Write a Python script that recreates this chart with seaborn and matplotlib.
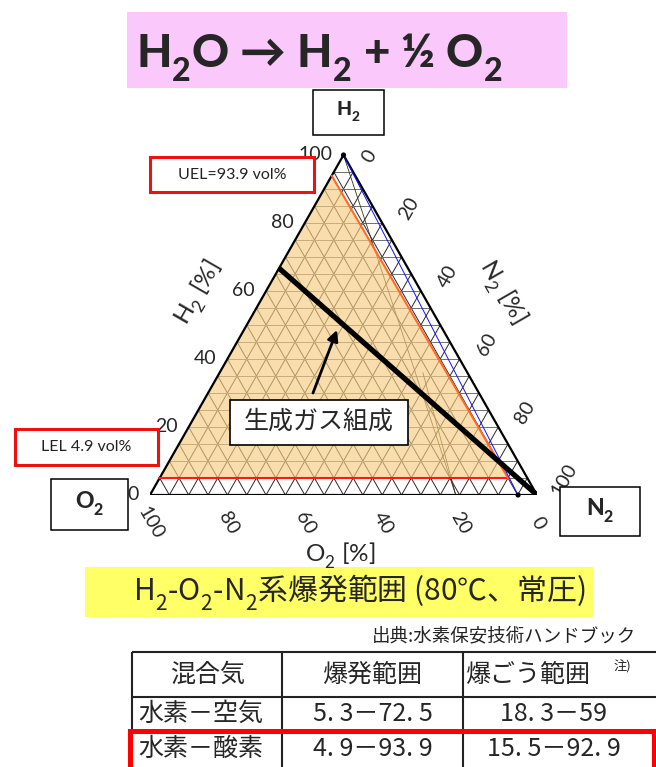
import numpy as np
import pandas as pd
import matplotlib
matplotlib.use("Agg")
import matplotlib.pyplot as plt
from matplotlib.patches import Rectangle
import seaborn as sns

try:  # deeper subscripts, closer to the reference typography
    import matplotlib._mathtext as _mt
    _mt.FontConstantsBase.sub1 = 0.62
except Exception:
    pass

# ---------------- data ----------------
axis_ticks = [0, 20, 40, 60, 80, 100]
grid_values = list(range(5, 100, 5))
lel_h2 = 4.9             # LEL vol%
uel_h2 = 93.9            # UEL vol%
uel_o2 = 6.1             # O2 at the UEL point (N2 = 0)
boundary_o2_low = 5.0    # O2 where the rich boundary meets the LEL line
blue_line_h2 = [100.0, 0.0]
blue_line_o2 = [0.0, 4.9]
product_h2 = [66.7, 0.0]     # H2 : O2 = 2 : 1, diluted by N2
product_o2 = [33.3, 0.0]
air_line_h2 = [100.0, 0.0]
air_line_o2 = [0.0, 21.0]
air_line2_h2 = [36.0, 0.0]
air_line2_o2 = [11.5, 21.0]

title_text = r"H$_2$O → H$_2$ + ½ O$_2$"
caption_text = r"H$_2$-O$_2$-N$_2$系爆発範囲 (80℃、常圧)"
source_text = "出典:水素保安技術ハンドブック"
gas_label = "生成ガス組成"
uel_label = "UEL=93.9 vol%"
lel_label = "LEL 4.9 vol%"
table_header = ["混合気", "爆発範囲", "爆ごう範囲"]
table_rows = [["水素－空気", "5. 3－72. 5", "18. 3－59"],
              ["水素－酸素", "4. 9－93. 9", "15. 5－92. 9"]]

# ---------------- style ----------------
sns.set_style("white")
plt.rcParams['font.family'] = ['Lato', 'Noto Sans CJK JP', 'DejaVu Sans']
plt.rcParams['mathtext.default'] = 'regular'
JP = ['Noto Sans CJK JP', 'DejaVu Sans']

S3 = np.sqrt(3) / 2


def tern_xy(h, o):
    h = np.asarray(h, dtype=float)
    o = np.asarray(o, dtype=float)
    n = 100.0 - h - o
    return n + h / 2.0, h * S3


def line_df(h, o):
    x, y = tern_xy(h, o)
    return pd.DataFrame({'x': np.atleast_1d(x), 'y': np.atleast_1d(y)})


fig = plt.figure(figsize=(6.56, 7.67), dpi=100)
fig.patch.set_facecolor('white')

W, H = 656, 767
ax = fig.add_axes([150 / W, (H - 495) / H, 387 / W, 340 / H])
ax.set_xlim(0, 100)
ax.set_ylim(0, 100 * S3)
ax.axis('off')

# grid
rows = []
for v in grid_values:
    for hh, oo in [(v, 100 - v), (v, 0)]:
        x, y = tern_xy(hh, oo); rows.append(('h%d' % v, 'h', float(x), float(y)))
    for hh, oo in [(100 - v, v), (0, v)]:
        x, y = tern_xy(hh, oo); rows.append(('o%d' % v, 'd', float(x), float(y)))
    for hh, oo in [(100 - v, 0), (0, 100 - v)]:
        x, y = tern_xy(hh, oo); rows.append(('n%d' % v, 'd', float(x), float(y)))
grid = pd.DataFrame(rows, columns=['id', 'kind', 'x', 'y'])
sns.lineplot(data=grid[grid.kind == 'd'], x='x', y='y', units='id', estimator=None,
             sort=False, color='#2a2a2a', lw=0.7, ax=ax, zorder=1)
sns.lineplot(data=grid[grid.kind == 'h'], x='x', y='y', units='id', estimator=None,
             sort=False, color='#707070', lw=0.7, ax=ax, zorder=1)

# air lines (faint)
for hh, oo in [(air_line_h2, air_line_o2), (air_line2_h2, air_line2_o2)]:
    sns.lineplot(data=line_df(hh, oo), x='x', y='y', sort=False, estimator=None,
                 color='#3a3020', lw=0.6, ax=ax, zorder=1)

# flammable region
fx, fy = tern_xy([lel_h2, uel_h2, lel_h2], [100 - lel_h2, uel_o2, boundary_o2_low])
ax.fill(fx, fy, facecolor='#F8CC80', alpha=0.65, edgecolor='none', zorder=2)

# triangle outline
sns.lineplot(data=line_df([0, 0, 100, 0], [100, 0, 0, 100]), x='x', y='y', sort=False,
             estimator=None, color='black', lw=1.6, ax=ax, zorder=3)

# boundary lines
sns.lineplot(data=line_df([lel_h2, lel_h2], [100 - lel_h2, boundary_o2_low]), x='x', y='y',
             sort=False, estimator=None, color='#FF1A1A', lw=1.5, ax=ax, zorder=4)
sns.lineplot(data=line_df([uel_h2, lel_h2], [uel_o2, boundary_o2_low]), x='x', y='y',
             sort=False, estimator=None, color='#FF6A2A', lw=1.5, ax=ax, zorder=4)
sns.lineplot(data=line_df(blue_line_h2, blue_line_o2), x='x', y='y',
             sort=False, estimator=None, color='#1010FF', lw=0.7, ax=ax, zorder=4)
sns.lineplot(data=line_df(product_h2, product_o2), x='x', y='y',
             sort=False, estimator=None, color='black', lw=3.8, ax=ax, zorder=5,
             solid_capstyle='butt')
mk = line_df([blue_line_h2[0], blue_line_h2[1]], [blue_line_o2[0], blue_line_o2[1]])
sns.scatterplot(data=mk, x='x', y='y', color='black', s=14, ax=ax, zorder=6,
                edgecolor='none', clip_on=False)

# tick labels
tfs = 14
for v in axis_ticks:
    x, y = tern_xy(v, 100 - v)          # H2 axis (left edge)
    ax.annotate(str(v), (float(x), float(y)), xytext=(-11, 0), textcoords='offset pixels',
                ha='right', va='center', fontsize=tfs, annotation_clip=False)
    x, y = tern_xy(100 - v, 0)          # N2 axis (right edge)
    off = (26, -1) if v == 0 else (27, 15)
    ax.annotate(str(v), (float(x), float(y)), xytext=off, textcoords='offset pixels',
                ha='center', va='center', fontsize=tfs, rotation=60,
                rotation_mode='anchor', annotation_clip=False)
    x, y = tern_xy(0, v)                # O2 axis (bottom edge)
    ax.annotate(str(v), (float(x), float(y)), xytext=(1, -28), textcoords='offset pixels',
                ha='center', va='center', fontsize=tfs, rotation=-60,
                rotation_mode='anchor', annotation_clip=False)

# ---------------- overlay (pixel coordinates) ----------------
ov = fig.add_axes([0, 0, 1, 1])
ov.set_xlim(0, W)
ov.set_ylim(H, 0)
ov.axis('off')

ov.text(199, 293, r"H$_2$ [%]", fontsize=17.5, rotation=60, ha='center', va='center',
        rotation_mode='anchor')
ov.text(502, 292, r"N$_2$ [%]", fontsize=17.5, rotation=-60, ha='center', va='center',
        rotation_mode='anchor')
ov.text(340, 556, r"O$_2$ [%]", fontsize=17.5, ha='center', va='center')

# title
ov.add_patch(Rectangle((127, 12), 440, 76, facecolor='#FAC8FA', edgecolor='none'))
ov.text(319, 67, title_text, fontsize=33, fontweight='black', ha='center', va='baseline')

# vertex boxes
for (x0, y0, w, h, lab, fs) in [(313, 90, 71, 45, r"H$_2$", 14),
                                (51, 479, 77, 51, r"O$_2$", 16.5),
                                (560, 487, 80, 49, r"N$_2$", 16.5)]:
    ov.add_patch(Rectangle((x0, y0), w, h, facecolor='white', edgecolor='black', lw=1.1))
    ov.text(x0 + w / 2, y0 + h / 2 - 1, lab, fontsize=fs, fontweight='black',
            ha='center', va='center')

# UEL / LEL boxes
ov.add_patch(Rectangle((150, 157), 164, 35, facecolor='white', edgecolor='#EE1111', lw=2.2))
ov.text(232, 175, uel_label, fontsize=11.5, ha='center', va='center', color='#222222')
ov.add_patch(Rectangle((15, 429), 143, 36, facecolor='white', edgecolor='#EE1111', lw=2.2))
ov.text(86.5, 447, lel_label, fontsize=11.5, ha='center', va='center', color='#222222')

# product gas label + arrow
ov.add_patch(Rectangle((230, 400), 178, 45, facecolor='white', edgecolor='black', lw=1.2,
                       zorder=5))
ov.text(319, 422, gas_label, fontsize=18, family=JP, ha='center', va='center', zorder=6)
ov.annotate('', xy=(337, 330), xytext=(313, 393),
            arrowprops=dict(arrowstyle='-|>', lw=2.0, color='black', mutation_scale=16,
                            shrinkA=0, shrinkB=0))

# caption
ov.add_patch(Rectangle((85, 567), 508, 50, facecolor='#FFFF66', edgecolor='none'))
ov.text(359, 593, caption_text, fontsize=21.5, family=JP, ha='center', va='center')

ov.text(636, 636, source_text, fontsize=13.3, family=JP, ha='right', va='center',
        color='#222222')

# table
col_x = [132, 282, 463, 656]
row_y = [652, 697, 731, 767]
for x in col_x[:3]:
    ov.plot([x, x], [row_y[0], H], color='#222222', lw=1.5, solid_capstyle='butt')
for y in row_y[:3]:
    ov.plot([col_x[0], W], [y, y], color='#222222', lw=1.5, solid_capstyle='butt')
hdr_cx = [208, 372, 528]
for cx, t in zip(hdr_cx, table_header):
    ov.text(cx, 675, t, fontsize=18, family=JP, ha='center', va='center')
ov.text(622, 667, "注)", fontsize=9.5, family=JP, ha='center', va='center')
cell_cx = [201, 373, 554]
for ry, row in zip([714, 749], table_rows):
    for cx, t in zip(cell_cx, row):
        ov.text(cx, ry, t, fontsize=18, family=JP, ha='center', va='center')
ov.plot([130, 130, W - 2, W - 2], [H + 5, 731, 731, H + 5], color='#FF0000', lw=3.6,
        solid_joinstyle='miter')

fig.savefig('out.png', dpi=100, facecolor='white')
